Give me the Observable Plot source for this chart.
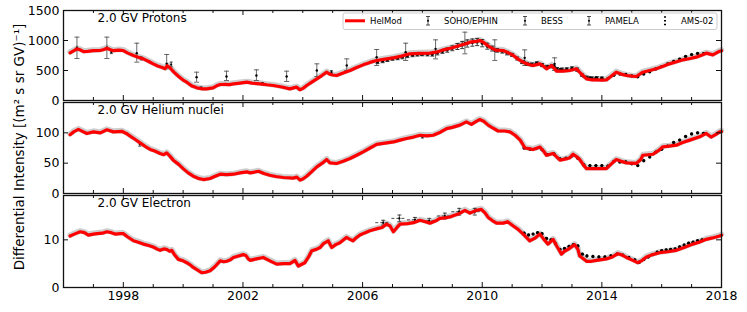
<!DOCTYPE html>
<html><head><meta charset="utf-8">
<script src="https://cdn.jsdelivr.net/npm/d3@7"></script>
<script src="https://cdn.jsdelivr.net/npm/@observablehq/plot@0.6"></script>
<style>
body{margin:0;background:#fff}
#chart{position:relative;width:747px;height:312px;font-family:"DejaVu Sans",sans-serif;overflow:hidden}
#chart svg{position:absolute;left:0}
</style>
</head><body><div id="chart"></div>
<script>
// ---------- axes ----------
const xMajor = [1998, 2002, 2006, 2010, 2014, 2018];
const xMinor = [1996,1997,1999,2000,2001,2003,2004,2005,2007,2008,2009,2011,2012,2013,2015,2016,2017];
const protonTicks = [0, 500, 1000, 1500];
const heliumTicks = [0, 50, 100];
const electronTicks = [0, 10];
const titles = ["2.0 GV Protons", "2.0 GV Helium nuclei", "2.0 GV Electron"];
const yLabel = "Differential Intensity [(m\u00b2 s sr GV)\u207b\u00b9]";
const legendNames = ["HelMod", "SOHO/EPHIN", "BESS", "PAMELA", "AMS-02"];

// ---------- protons ----------
const pHelT = [1996.22,1996.35,1996.45,1996.55,1996.67,1996.8,1997.0,1997.23,1997.35,1997.45,1997.55,1997.67,1997.85,1998.0,1998.15,1998.34,1998.5,1998.67,1998.85,1999.0,1999.15,1999.3,1999.4,1999.47,1999.55,1999.7,1999.85,2000.0,2000.12,2000.3,2000.46,2000.62,2000.79,2001.0,2001.12,2001.24,2001.4,2001.55,2001.68,2001.9,2002.13,2002.3,2002.57,2002.8,2003.02,2003.3,2003.57,2003.72,2003.8,2003.9,2004.0,2004.13,2004.3,2004.47,2004.65,2004.8,2004.9,2005.0,2005.13,2005.35,2005.58,2005.8,2006.02,2006.25,2006.47,2006.75,2007.03,2007.3,2007.58,2007.9,2008.25,2008.5,2008.7,2009.0,2009.25,2009.45,2009.59,2009.8,2009.92,2010.03,2010.15,2010.26,2010.45,2010.7,2010.9,2011.04,2011.2,2011.37,2011.55,2011.7,2011.93,2012.05,2012.15,2012.32,2012.49,2012.7,2012.93,2013.15,2013.3,2013.49,2013.65,2013.82,2014.0,2014.15,2014.3,2014.48,2014.65,2014.82,2015.0,2015.15,2015.37,2015.6,2015.82,2016.05,2016.26,2016.5,2016.71,2016.95,2017.15,2017.35,2017.49,2017.71,2017.94,2018.0];
const pHelV = [795,830,860,845,815,820,830,833,850,872,850,830,840,833,790,750,720,694,650,611,575,550,530,580,550,470,400,340,305,240,211,195,194,211,245,267,270,265,278,290,305,290,278,262,250,225,194,215,222,180,200,250,305,361,420,472,440,425,417,460,500,550,594,635,667,690,711,740,778,785,789,810,844,880,917,945,972,985,1000,972,930,889,840,833,790,750,690,639,600,583,611,570,528,583,489,490,500,528,450,361,345,344,340,344,400,472,440,417,405,400,472,500,528,570,611,645,678,700,722,760,789,761,822,830];
const pEphT = [1996.45,1997.45,1998.45,1999.45,2000.45,2001.45,2002.45,2003.46,2004.47,2005.47,2006.47,2007.44,2008.44,2009.42,2010.42,2011.42,2012.42];
const pEphV = [878,878,789,611,389,400,417,400,500,583,722,806,861,955,833,711,611];
const pEphLo = [700,700,639,528,305,333,333,317,400,500,583,667,694,778,667,583,500];
const pEphHi = [1056,1056,955,767,472,489,511,489,611,694,850,955,1011,1139,1011,844,711];
const pBessT = [1997.6,1998.6,1999.6,2000.6,2002.65,2004.96,2007.96];
const pBessV = [806,700,600,211,280,472,770];
const pBessE = [25,25,40,15,20,25,20];
const pPamT = [2006.5,2006.67,2006.83,2007.0,2007.17,2007.33,2007.5,2007.67,2007.83,2008.0,2008.17,2008.33,2008.5,2008.67,2008.83,2009.0,2009.17,2009.33,2009.5,2009.67,2009.83,2010.0,2010.17,2010.33,2010.5,2010.67,2010.83,2011.0,2011.17,2011.33,2011.5,2011.67,2011.83,2012.0,2012.17,2012.33,2012.5,2012.67,2012.83,2013.0,2013.17,2013.33,2013.5,2013.67,2013.83,2014.0];
const pPamV = [640,655,675,695,705,720,740,755,765,770,768,765,790,815,840,870,900,925,950,965,975,955,905,865,835,820,790,760,700,640,610,600,620,590,560,570,525,515,520,535,515,425,385,372,378,372];
const pPamE = [25,25,25,25,25,25,25,25,25,25,25,25,30,30,35,40,50,60,60,60,60,60,50,40,30,30,30,25,25,25,25,25,25,25,25,25,25,25,25,25,25,20,20,20,20,20];
const pAmsT = [2011.4,2011.6,2011.8,2012.0,2012.2,2012.4,2012.6,2012.8,2013.0,2013.2,2013.4,2013.6,2013.8,2014.0,2014.2,2014.4,2014.6,2014.8,2015.0,2015.2,2015.4,2015.6,2015.8,2016.0,2016.2,2016.4,2016.6,2016.8,2017.0,2017.2,2017.4];
const pAmsV = [640,600,610,590,560,570,515,505,525,500,400,375,370,368,365,420,440,435,410,395,440,480,525,565,610,650,690,735,765,785,780];
const pAmsE = [15,15,15,15,15,15,15,15,15,15,12,12,12,12,12,12,12,12,12,12,12,12,12,12,12,12,12,12,12,12,12];

// ---------- helium ----------
const hHelT = [1996.22,1996.35,1996.5,1996.65,1996.78,1997.0,1997.23,1997.45,1997.67,1997.95,1998.1,1998.23,1998.4,1998.56,1998.75,1998.9,1999.05,1999.23,1999.35,1999.45,1999.55,1999.67,1999.85,2000.0,2000.17,2000.34,2000.5,2000.68,2000.9,2001.05,2001.24,2001.45,2001.68,2001.9,2002.13,2002.24,2002.52,2002.7,2002.9,2003.1,2003.35,2003.68,2003.8,2003.91,2004.0,2004.13,2004.3,2004.47,2004.65,2004.8,2004.91,2005.13,2005.35,2005.58,2005.8,2006.02,2006.25,2006.47,2006.75,2007.03,2007.25,2007.47,2007.7,2007.92,2008.15,2008.36,2008.6,2008.81,2009.0,2009.25,2009.47,2009.64,2009.8,2009.92,2010.05,2010.2,2010.35,2010.53,2010.75,2010.93,2011.1,2011.27,2011.37,2011.43,2011.55,2011.7,2011.93,2012.05,2012.15,2012.37,2012.6,2012.8,2012.93,2013.04,2013.15,2013.26,2013.4,2013.49,2013.82,2014.15,2014.3,2014.48,2014.65,2014.82,2015.15,2015.3,2015.37,2015.71,2015.9,2016.04,2016.25,2016.49,2016.7,2016.94,2017.27,2017.49,2017.65,2017.8,2017.94,2018.0];
const hHelV = [97,102,105.6,102,99,101.6,100,105,101.6,102.5,99,94.6,89,83.5,77,72.6,70,66,64,67,62,55,48,41,34,28.5,25,23,24.7,28,31.8,31,31.8,34,35.7,34,36.6,33,30,28,26.4,25.4,27,22,24,28.5,36,44,50,56,50.5,49.5,53,57.7,63,68.7,75,81,83,85,88,90.7,93,96,95,96,101,107,109,112.7,118,114,119,122,119,112.7,108,103,103,101.6,96,88,80,75,74,72.6,76.5,70,63,66,55,57,59,64.8,61,56,46,41,41,41,48,56,53,50.5,49.5,56,63,64.7,71,77,78,79.7,84,88,93.4,99,93,97,101.6,102];
const hBessT = [1998.55, 2008.0];
const hBessV = [81, 93.4];
const hBessE = [3, 2];
const hAmsT = [2011.4,2011.6,2011.8,2012.0,2012.2,2012.4,2012.6,2012.8,2013.0,2013.2,2013.4,2013.6,2013.8,2014.0,2014.2,2014.4,2014.6,2014.8,2015.0,2015.2,2015.4,2015.6,2015.8,2016.0,2016.2,2016.4,2016.6,2016.8,2017.0,2017.2,2017.4];
const hAmsV = [75,73,74,72,64,65,57,58,62,58,47,46,46,46,45,53,52,52,49,46,54,60,68,73,78,84,88,94,98,100,99];
const hAmsE = [1.5,1.5,1.5,1.5,1.5,1.5,1.5,1.5,1.5,1.5,1.5,1.5,1.5,1.5,1.5,1.5,1.5,1.5,1.5,1.5,1.5,1.5,1.5,1.5,1.5,1.5,1.5,1.5,1.5,1.5,1.5];

// ---------- electrons ----------
const eHelT = [1996.22,1996.4,1996.56,1996.7,1996.83,1997.0,1997.12,1997.3,1997.45,1997.6,1997.73,1997.9,1998.0,1998.15,1998.34,1998.5,1998.67,1998.85,1999.0,1999.15,1999.23,1999.35,1999.45,1999.55,1999.62,1999.72,1999.84,2000.0,2000.12,2000.25,2000.34,2000.5,2000.62,2000.75,2000.9,2001.05,2001.24,2001.35,2001.46,2001.58,2001.68,2001.85,2002.01,2002.1,2002.18,2002.24,2002.45,2002.68,2002.9,2003.13,2003.35,2003.57,2003.74,2003.85,2004.07,2004.2,2004.3,2004.45,2004.58,2004.69,2004.85,2004.97,2005.1,2005.24,2005.46,2005.58,2005.68,2005.8,2005.91,2006.05,2006.24,2006.52,2006.65,2006.8,2006.92,2007.03,2007.15,2007.25,2007.5,2007.7,2007.92,2008.1,2008.25,2008.45,2008.58,2008.75,2008.92,2009.05,2009.2,2009.42,2009.59,2009.81,2009.97,2010.1,2010.2,2010.35,2010.48,2010.7,2010.85,2011.04,2011.2,2011.37,2011.59,2011.75,2011.93,2012.05,2012.2,2012.37,2012.5,2012.65,2012.75,2012.87,2013.09,2013.2,2013.26,2013.49,2013.65,2013.82,2014.15,2014.35,2014.54,2014.68,2014.82,2015.0,2015.21,2015.35,2015.49,2015.7,2015.93,2016.2,2016.49,2016.75,2017.04,2017.25,2017.49,2017.7,2017.94,2018.0];
const eHelV = [10.8,11.3,11.7,11.5,11.0,11.2,11.3,11.4,11.7,11.5,11.2,11.3,11.3,10.6,9.8,9.5,9.1,8.8,8.5,8.0,7.8,8.1,8.0,7.6,7.8,6.8,5.9,5.6,5.2,4.7,4.2,3.6,3.1,3.2,3.5,4.3,5.6,5.4,5.5,5.8,6.3,6.6,6.9,6.7,6.0,5.7,6.0,6.3,5.6,4.9,5.0,5.0,5.7,4.5,5.2,6.5,7.7,8.0,8.4,9.2,9.8,8.4,9.0,9.4,10.5,10.1,9.8,10.5,11.0,11.4,11.9,12.4,12.6,13.3,12.9,11.7,12.6,13.3,13.4,13.6,14.1,13.8,13.5,14.0,14.5,14.6,14.8,15.1,15.4,16.2,15.6,16.2,16.4,15.6,14.7,14.0,13.5,13.5,13.8,12.9,12.2,11.2,9.8,10.3,11.2,10.2,9.1,10.1,8.6,7.0,7.6,8.0,9.0,8.0,6.6,5.5,5.5,5.7,6.0,6.4,7.1,6.8,6.3,5.8,5.2,5.7,6.4,6.9,7.3,7.5,7.8,8.4,9.1,9.5,10.1,10.4,10.8,11.0];
const ePamT = [2006.69,2007.23,2007.75,2008.23,2008.75,2009.23,2009.75];
const ePamV = [13.6,14.5,14.2,14.0,15.0,15.9,15.9];
const ePamE = [0.5,0.7,0.5,0.5,0.6,0.7,0.7];
const ePamHalfWidth = [0.25,0.25,0.25,0.25,0.25,0.25,0.25];
const eAmsT = [2011.4,2011.55,2011.7,2011.85,2012.0,2012.15,2012.3,2012.45,2012.6,2012.75,2012.9,2013.05,2013.2,2013.35,2013.5,2013.7,2013.9,2014.1,2014.3,2014.5,2014.7,2014.9,2015.1,2015.25,2015.4,2015.55,2015.7,2015.85,2016.0,2016.15,2016.3,2016.45,2016.6,2016.75,2016.9,2017.05,2017.2,2017.35];
const eAmsV = [11.4,11.0,11.2,11.5,11.3,10.3,10.0,9.2,8.0,8.2,8.6,9.0,8.7,7.0,6.6,6.5,6.4,6.4,6.6,7.0,6.8,6.3,5.8,5.3,5.9,6.4,6.9,7.4,7.7,7.9,8.0,8.1,8.5,8.9,9.3,9.5,9.8,10.0];
const eAmsE = [0.2,0.2,0.2,0.2,0.2,0.2,0.2,0.2,0.2,0.2,0.2,0.2,0.2,0.2,0.2,0.2,0.2,0.2,0.2,0.2,0.2,0.2,0.2,0.2,0.2,0.2,0.2,0.2,0.2,0.2,0.2,0.2,0.2,0.2,0.2,0.2,0.2,0.2];

// ---------- helpers ----------
const chart = document.getElementById("chart");
const X0 = 1996, X1 = 2018, ML = 63, MR = 26, W = 747;
const plotW = W - ML - MR;
const capSymbol = {draw(ctx, size) { const r = Math.sqrt(size / Math.PI); ctx.moveTo(-r, 0); ctx.lineTo(r, 0); }};
const zip = (t, v, e) => t.map((d, i) => ({t: d, v: v[i], e: e ? e[i] : 0}));

function errMarks(rows, {stroke = "#222", sw = 0.8, cap = 2, dotR = 1.1, lo = d => d.v - d.e, hi = d => d.v + d.e}) {
  const m = [
    Plot.ruleX(rows, {x: "t", y1: lo, y2: hi, stroke, strokeWidth: sw}),
    Plot.dot(rows, {x: "t", y: "v", r: dotR, fill: "#000", stroke: "none"})
  ];
  if (cap > 0) {
    m.push(Plot.dot(rows, {x: "t", y: lo, r: cap, symbol: capSymbol, stroke, strokeWidth: sw, fill: "none"}));
    m.push(Plot.dot(rows, {x: "t", y: hi, r: cap, symbol: capSymbol, stroke, strokeWidth: sw, fill: "none"}));
  }
  return m;
}

function panel({top, mt, plotH, mb, yMax, yTicks, title, helT, helV, data, showX}) {
  const hel = helT.map((t, i) => ({t, v: helV[i]}));
  // tick lengths converted from pixels to data units
  const ty = px => px * yMax / plotH;
  const tx = px => px * (X1 - X0) / plotW;
  const tickStyle = {stroke: "#111", strokeWidth: 1};
  const marks = [
    Plot.line(hel, {x: "t", y: "v", stroke: "#cfcfcf", strokeWidth: 5.5, dy: -0.8}),
    ...data,
    Plot.line(hel, {x: "t", y: "v", stroke: "#ff0000", strokeWidth: 3.2}),
    Plot.ruleX(xMajor, {x: d => d, y1: 0, y2: ty(5), ...tickStyle}),
    Plot.ruleX(xMinor, {x: d => d, y1: 0, y2: ty(3), ...tickStyle}),
    Plot.ruleX(xMajor, {x: d => d, y1: yMax - ty(5), y2: yMax, ...tickStyle}),
    Plot.ruleX(xMinor, {x: d => d, y1: yMax - ty(3), y2: yMax, ...tickStyle}),
    Plot.ruleY(yTicks, {y: d => d, x1: X0, x2: X0 + tx(5), ...tickStyle}),
    Plot.ruleY(yTicks, {y: d => d, x1: X1 - tx(5), x2: X1, ...tickStyle}),
    Plot.frame({stroke: "#111", strokeWidth: 1.3}),
    Plot.text(yTicks, {x: X0, y: d => d, text: d => String(d), textAnchor: "end", dx: -4, fontSize: 12.5, fill: "#000"}),
    Plot.text([title], {frameAnchor: "top-left", dx: 34, dy: 3, textAnchor: "start", lineAnchor: "top", fontSize: 12, fill: "#000"})
  ];
  if (showX) marks.push(Plot.text(xMajor, {x: d => d, y: 0, text: d => String(d), lineAnchor: "top", dy: 4, fontSize: 12.5, fill: "#000"}));
  const svg = Plot.plot({
    width: W, height: mt + plotH + mb,
    marginLeft: ML, marginRight: MR, marginTop: mt, marginBottom: mb,
    x: {domain: [X0, X1], axis: null},
    y: {domain: [0, yMax], axis: null},
    style: {background: "transparent", overflow: "visible", fontFamily: "DejaVu Sans", color: "#000"},
    marks
  });
  svg.style.position = "absolute";
  svg.style.top = top + "px";
  chart.append(svg);
}

const amsStyle = {cap: 0, dotR: 1.7, sw: 1.6, stroke: "#000"};

// protons
panel({
  top: 0, mt: 10, plotH: 90, mb: 2, yMax: 1500, yTicks: protonTicks, title: titles[0],
  helT: pHelT, helV: pHelV,
  data: [
    ...errMarks(pEphT.map((t, i) => ({t, v: pEphV[i], lo: pEphLo[i], hi: pEphHi[i]})), {stroke: "#444", cap: 2.5, dotR: 1.2, lo: "lo", hi: "hi"}),
    ...errMarks(zip(pBessT, pBessV, pBessE), {cap: 1.5}),
    ...errMarks(zip(pPamT, pPamV, pPamE), {cap: 2, dotR: 1.5, sw: 0.9}),
    ...errMarks(zip(pAmsT, pAmsV, pAmsE), amsStyle)
  ]
});
// helium
panel({
  top: 100, mt: 2, plotH: 91, mb: 2, yMax: 150, yTicks: heliumTicks, title: titles[1],
  helT: hHelT, helV: hHelV,
  data: [
    ...errMarks(zip(hBessT, hBessV, hBessE), {cap: 1.5}),
    ...errMarks(zip(hAmsT, hAmsV, hAmsE), amsStyle)
  ]
});
// electrons
const ePam = ePamT.map((t, i) => ({t, v: ePamV[i], e: ePamE[i], h: ePamHalfWidth[i]}));
panel({
  top: 193, mt: 2, plotH: 92, mb: 27, yMax: 19.3, yTicks: electronTicks, title: titles[2], showX: true,
  helT: eHelT, helV: eHelV,
  data: [
    Plot.ruleY(ePam, {y: "v", x1: d => d.t - d.h, x2: d => d.t + d.h, stroke: "#222", strokeWidth: 0.8, strokeDasharray: "3,2"}),
    ...errMarks(ePam, {cap: 2}),
    ...errMarks(zip(eAmsT, eAmsV, eAmsE), amsStyle)
  ]
});

// ---------- overlay: y label + legend ----------
const ov = d3.select(chart).append("svg").attr("width", 747).attr("height", 312)
  .style("top", "0px").style("pointer-events", "none").style("font-family", "DejaVu Sans");
ov.append("text").attr("transform", "translate(23.5,147) rotate(-90)").attr("text-anchor", "middle")
  .attr("font-size", 13.5).attr("fill", "#000").text(yLabel);
const lg = ov.append("g");
lg.append("rect").attr("x", 343).attr("y", 13).attr("width", 374).attr("height", 16.5).attr("rx", 2)
  .attr("fill", "#fff").attr("fill-opacity", 0.9).attr("stroke", "#ccc").attr("stroke-width", 1);
lg.append("line").attr("x1", 345).attr("x2", 365).attr("y1", 20.8).attr("y2", 20.8).attr("stroke", "#ff0000").attr("stroke-width", 3);
const legX = [370, 444, 541, 605, 681];
const markX = [null, 428, 525, 589, 665];
legendNames.forEach((n, i) => {
  lg.append("text").attr("x", legX[i]).attr("y", 24).attr("font-size", 8.5).attr("fill", "#000").text(n);
  const mx = markX[i];
  if (mx == null) return;
  if (i < 4) {
    lg.append("line").attr("x1", mx).attr("x2", mx).attr("y1", 16.5).attr("y2", 25).attr("stroke", "#222").attr("stroke-width", 0.8);
    lg.append("line").attr("x1", mx - 2).attr("x2", mx + 2).attr("y1", 16.5).attr("y2", 16.5).attr("stroke", "#222").attr("stroke-width", 0.8);
    lg.append("line").attr("x1", mx - 2).attr("x2", mx + 2).attr("y1", 25).attr("y2", 25).attr("stroke", "#222").attr("stroke-width", 0.8);
    lg.append("circle").attr("cx", mx).attr("cy", 20.8).attr("r", 1).attr("fill", "#000");
  } else {
    [17, 20.8, 24.5].forEach(y => lg.append("line").attr("x1", mx - 1).attr("x2", mx + 1).attr("y1", y).attr("y2", y).attr("stroke", "#000").attr("stroke-width", 1.4));
  }
});
</script>
</body></html>
